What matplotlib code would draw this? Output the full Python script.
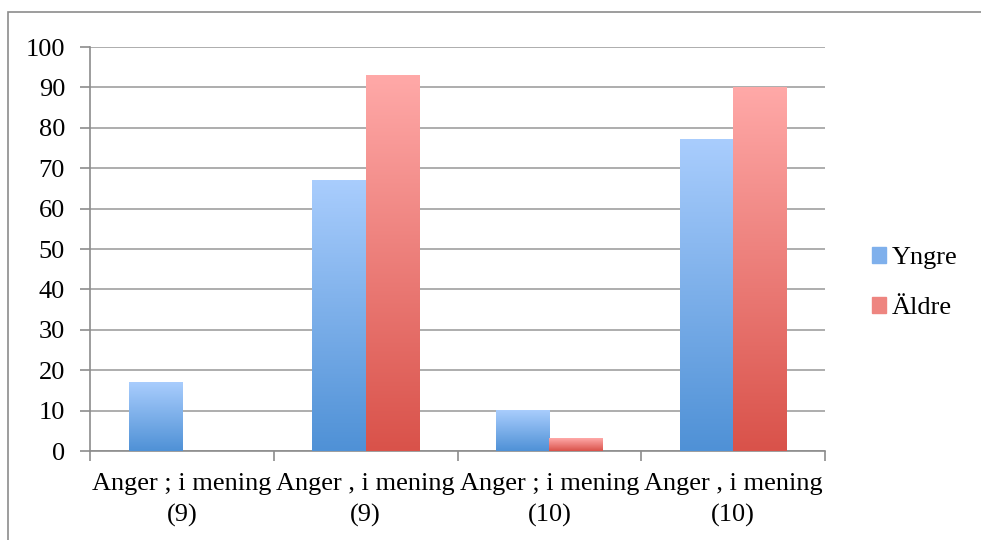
import numpy as np
import matplotlib
matplotlib.use("Agg")
import matplotlib.pyplot as plt
from matplotlib.colors import LinearSegmentedColormap
from matplotlib.patches import Rectangle

# data
categories = ["Anger ; i mening\n(9)", "Anger , i mening\n(9)",
              "Anger ; i mening\n(10)", "Anger , i mening\n(10)"]
yngre = [17, 67, 10, 77]
aldre = [0, 93, 3, 90]
series_names = ["Yngre", "Äldre"]

plt.rcParams["font.family"] = ["Liberation Serif", "DejaVu Serif"]

fig = plt.figure(figsize=(9.81, 5.40), dpi=100)
ax = fig.add_axes([90 / 981, 1 - 451 / 540, (825 - 90) / 981, (451 - 47) / 540])

# outer chart border
fig.patches.append(Rectangle((8 / 981, -0.01), 1.0, 1 - 12 / 540 + 0.01,
                             transform=fig.transFigure, fill=False,
                             edgecolor="#8c8c8c", lw=1.2))

blue_cmap = LinearSegmentedColormap.from_list("b", ["#4f91d6", "#a9cdfd"])
red_cmap = LinearSegmentedColormap.from_list("r", ["#d9524a", "#ffa9a8"])
grad = np.linspace(0, 1, 256).reshape(-1, 1)

ymax = 100
width = 0.29
x = np.arange(len(categories))


def grad_bars(xs, vals, cmap):
    bars = ax.bar(xs, vals, width=width, color="none", zorder=3)
    for b in bars:
        h = b.get_height()
        if h <= 0:
            continue
        x0 = b.get_x()
        # each bar gets its own full gradient (dark bottom, light top)
        ax.imshow(grad, cmap=cmap, vmin=0, vmax=1, origin="lower", aspect="auto",
                  extent=(x0, x0 + b.get_width(), 0, h), zorder=3)
    return bars


grad_bars(x - width / 2, yngre, blue_cmap)
grad_bars(x + width / 2, aldre, red_cmap)

ax.set_xlim(-0.5, len(categories) - 0.5)
ax.set_ylim(0, ymax)
ax.set_yticks(range(0, 101, 10))
ax.tick_params(axis="y", labelsize=19, length=7, color="#8c8c8c", width=1.2, pad=11)
ax.yaxis.grid(True, color="#a0a0a0", lw=1.2, zorder=0)
ax.set_axisbelow(True)

ax.set_xticks(np.arange(-0.5, len(categories), 1.0))
ax.set_xticklabels([])
ax.set_xticks(x, minor=True)
ax.set_xticklabels(categories, minor=True, fontsize=19, linespacing=1.5)
ax.tick_params(axis="x", which="major", length=7, color="#8c8c8c", width=1.2)
ax.tick_params(axis="x", which="minor", length=0, pad=16)

for side in ["top", "right"]:
    ax.spines[side].set_visible(False)
for side in ["left", "bottom"]:
    ax.spines[side].set_color("#8c8c8c")
    ax.spines[side].set_linewidth(1.2)

# legend
handles = [Rectangle((0, 0), 1, 1, color="#7fb0ec"), Rectangle((0, 0), 1, 1, color="#ee8580")]
fig.legend(handles, series_names, loc="center left", bbox_to_anchor=(848 / 981, 1 - 283 / 540),
           frameon=False, fontsize=19, handlelength=0.55, handleheight=0.55,
           handletextpad=0.2, labelspacing=1.05)

fig.savefig("out.png", dpi=100)
